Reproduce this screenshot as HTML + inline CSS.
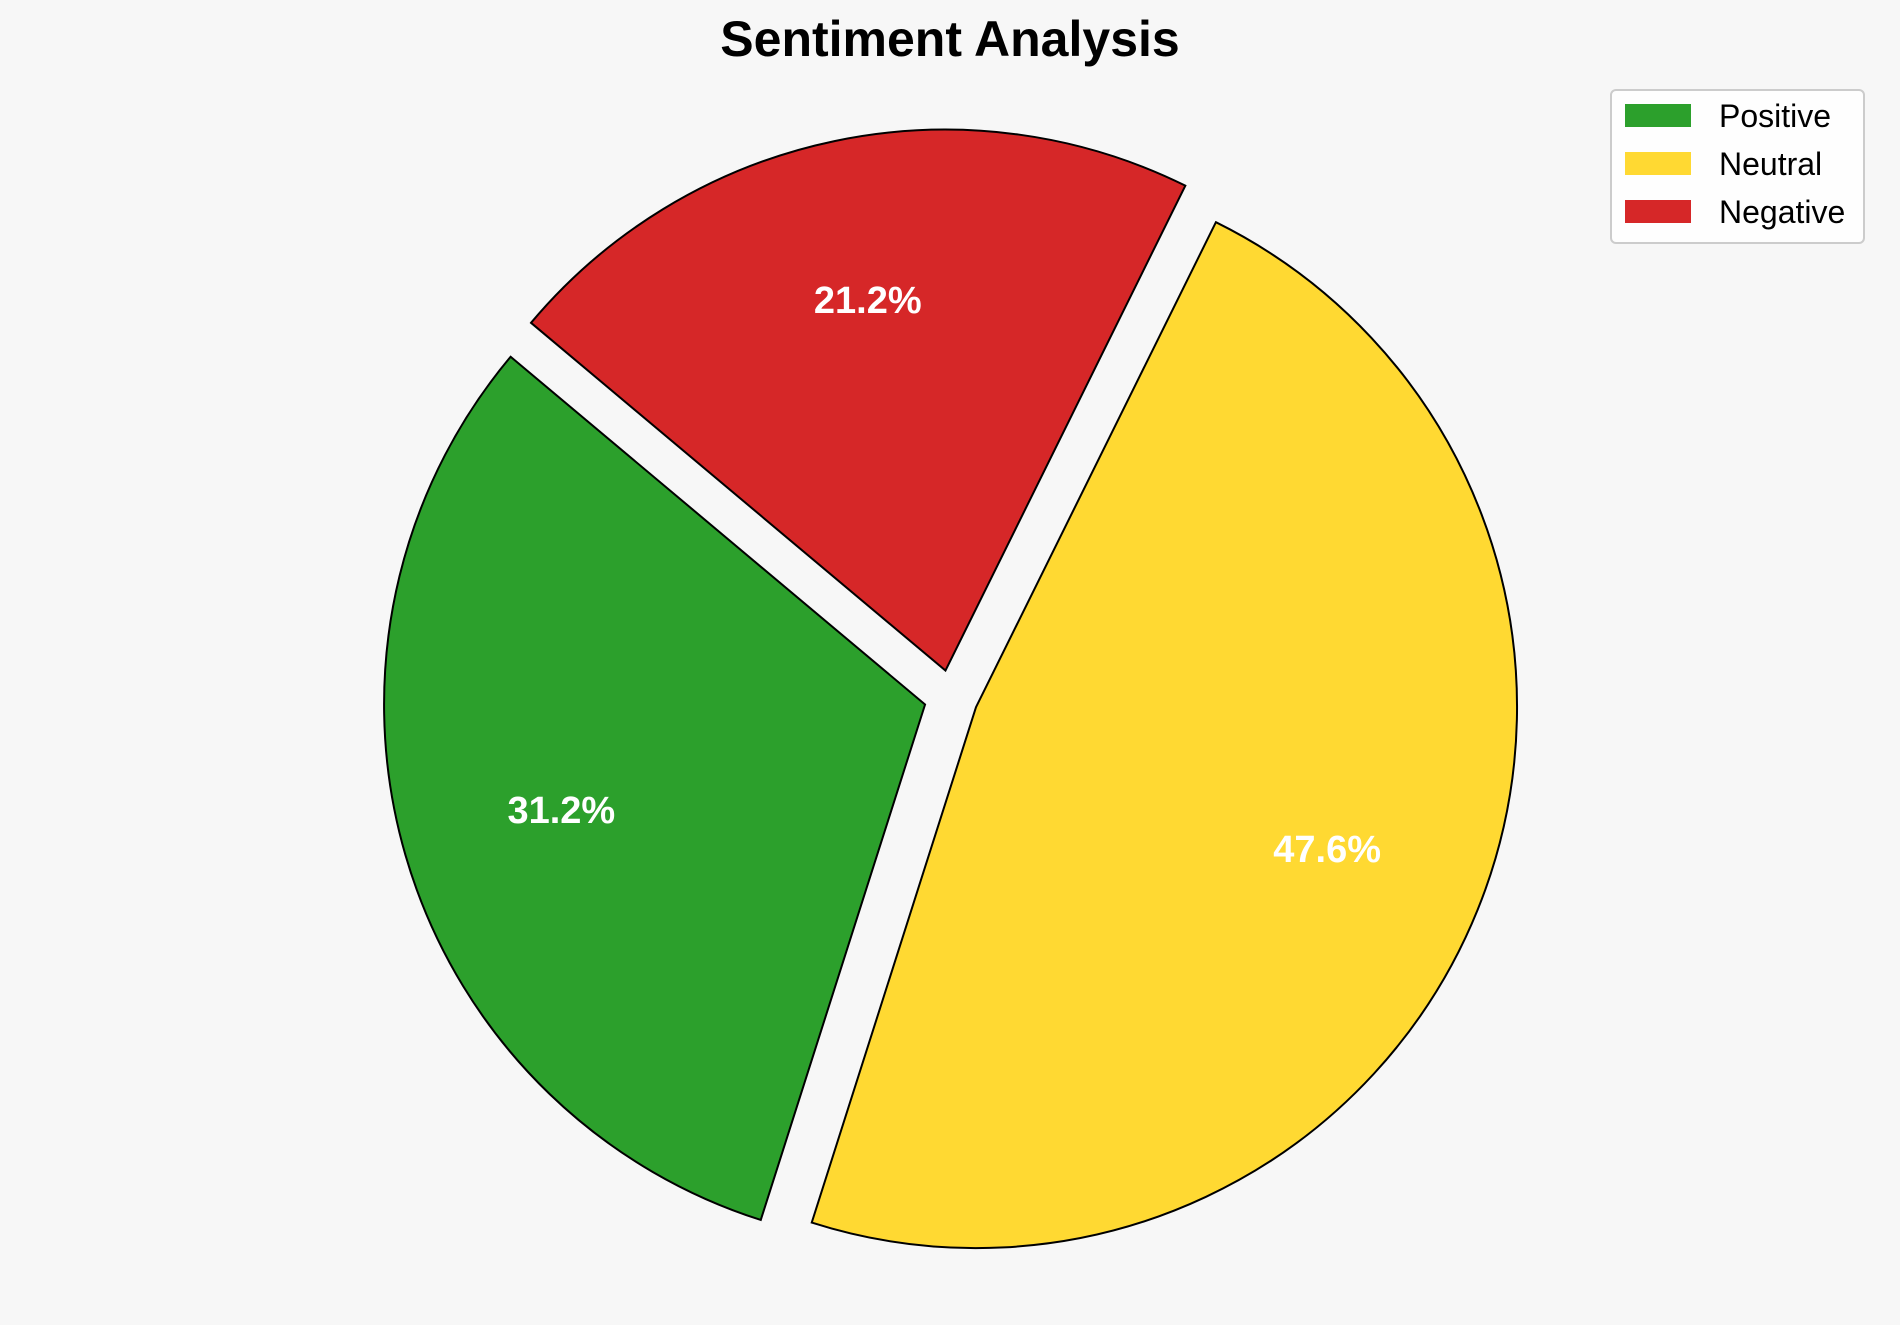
<!DOCTYPE html>
<html><head><meta charset="utf-8"><style>
html,body{margin:0;padding:0;background:#f7f7f7;}
svg{display:block;font-family:"Liberation Sans",Arial,sans-serif;}
</style></head><body>
<svg id="chart" width="1900" height="1325" viewBox="0 0 1900 1325">
<rect width="1900" height="1325" fill="#f7f7f7"/>
<text x="950" y="56" text-anchor="middle" font-size="50" font-weight="bold" fill="#000">Sentiment Analysis</text>
<g id="pie"></g>
<g>
<rect x="1611" y="90" width="253" height="153" rx="5" fill="#fff" fill-opacity="0.8" stroke="#cccccc" stroke-width="2"/>
<g id="legend-items"></g>
</g>
</svg>
<script>
const categories = ["Positive", "Neutral", "Negative"];
const values = [31.2, 47.6, 21.2];
const colors = ["#2ca02c", "#ffd932", "#d62728"];
const pctLabels = ["31.2%", "47.6%", "21.2%"];

const NS = "http://www.w3.org/2000/svg";
const cx = 951, cy = 697, r = 541, explode = 27, startAngle = 140, pctDist = 0.7;
const pie = document.getElementById("pie");
const total = values.reduce((a, b) => a + b, 0);
let a0 = startAngle;
function pt(x, y, ang, rad) {
  const t = ang * Math.PI / 180;
  return [x + rad * Math.cos(t), y - rad * Math.sin(t)];
}
values.forEach((v, i) => {
  const sweep = v / total * 360;
  const a1 = a0 + sweep;
  const mid = (a0 + a1) / 2;
  const [ox, oy] = pt(cx, cy, mid, explode);
  const [x0, y0] = pt(ox, oy, a0, r);
  const [x1, y1] = pt(ox, oy, a1, r);
  const large = sweep > 180 ? 1 : 0;
  const p = document.createElementNS(NS, "path");
  p.setAttribute("d", `M${ox},${oy} L${x0},${y0} A${r},${r} 0 ${large} 0 ${x1},${y1} Z`);
  p.setAttribute("fill", colors[i]);
  p.setAttribute("stroke", "#000");
  p.setAttribute("stroke-width", "2");
  p.setAttribute("stroke-linejoin", "miter");
  
  
  pie.appendChild(p);
  const [lx, ly] = pt(ox, oy, mid, r * pctDist);
  const t = document.createElementNS(NS, "text");
  t.setAttribute("x", lx);
  t.setAttribute("y", ly + 13);
  t.setAttribute("text-anchor", "middle");
  t.setAttribute("font-size", "38");
  t.setAttribute("font-weight", "bold");
  t.setAttribute("fill", "#fff");
  t.textContent = pctLabels[i];
  
  
  pie.appendChild(t);
  a0 = a1;
});
const leg = document.getElementById("legend-items");
categories.forEach((c, i) => {
  const y = 104 + i * 48;
  const sw = document.createElementNS(NS, "rect");
  sw.setAttribute("x", 1625); sw.setAttribute("y", y);
  sw.setAttribute("width", 66); sw.setAttribute("height", 23);
  sw.setAttribute("fill", colors[i]);
  
  
  leg.appendChild(sw);
  const t = document.createElementNS(NS, "text");
  t.setAttribute("x", 1719); t.setAttribute("y", y + 23);
  t.setAttribute("font-size", "32");
  t.setAttribute("fill", "#000");
  t.textContent = c;
  
  
  leg.appendChild(t);
});
</script>
</body></html>
